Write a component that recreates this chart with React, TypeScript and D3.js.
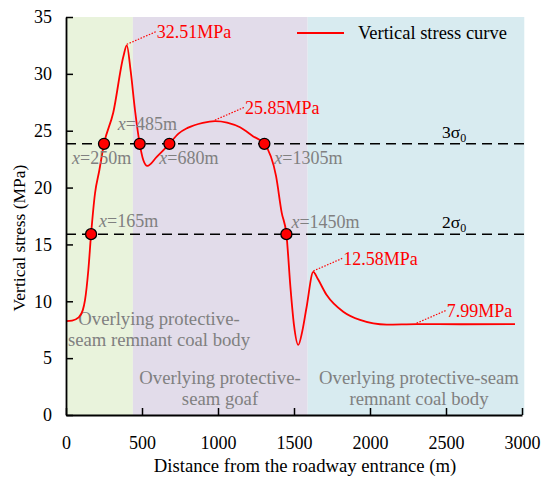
import { useEffect, useRef } from 'react';
import * as d3 from 'd3';

// stress curve
const distance = [
  0, 40, 81, 110, 125, 147, 165, 191, 219, 250, 311, 377, 400, 425, 454, 485, 509, 535,
  597, 680, 740, 800, 900, 980, 1060, 1145, 1232, 1305, 1382, 1419, 1450, 1478, 1500,
  1528, 1555, 1583, 1627, 1655, 1715, 1824, 1934, 2110, 2307, 2600, 2954,
];
const stress = [
  8.25, 8.3, 8.56, 9.2, 10.1, 12.75, 15.9, 19.5, 21.5, 23.85, 26.6, 31.5, 32.51, 30.3,
  26.8, 23.85, 22.4, 21.9, 22.7, 23.85, 24.75, 25.25, 25.7, 25.85, 25.72, 25.3, 24.5,
  23.85, 21.0, 17.8, 15.9, 11.0, 7.9, 6.16, 7.4, 9.5, 12.58, 12.0, 10.55, 9.08, 8.36,
  7.95, 7.99, 7.98, 8.0,
];

const sigma3 = 23.85;
const sigma2 = 15.9;

const crossX = [165, 250, 485, 680, 1305, 1450];
const crossY = [sigma2, sigma3, sigma3, sigma3, sigma3, sigma2];
const crossLabels = ['165', '250', '485', '680', '1305', '1450'];
// label offsets (px) relative to each marker
const crossDx = [8, -32, -22, -10, 10, 5];
const crossDy = [-7, 20, -14, 20, 20, -6];

const peakX = [400, 980, 1627, 2307];
const peakY = [32.51, 25.85, 12.58, 7.99];
const peakLabels = ['32.51MPa', '25.85MPa', '12.58MPa', '7.99MPa'];

const zoneStart = [0, 440, 1590];
const zoneEnd = [440, 1590, 3015];
const zoneColors = ['#e9f3dc', '#e2dcea', '#d8ebf0'];
const zoneLine1 = ['Overlying protective-', 'Overlying protective-', 'Overlying protective-seam'];
const zoneLine2 = ['seam remnant coal body', 'seam goaf', 'remnant coal body'];
const zoneLabelX = [159, 220, 419];

const xTicks = [0, 500, 1000, 1500, 2000, 2500, 3000];
const yTicks = [0, 5, 10, 15, 20, 25, 30, 35];

const W = 550;
const H = 481;
const FONT = "'Liberation Serif', 'Times New Roman', 'DejaVu Serif', serif";

export default function App() {
  const xAxisRef = useRef<SVGGElement>(null);
  const yAxisRef = useRef<SVGGElement>(null);

  const x = d3.scaleLinear().domain([0, 3000]).range([66, 522]);
  const y = d3.scaleLinear().domain([0, 35]).range([415, 17]);

  useEffect(() => {
    if (!xAxisRef.current || !yAxisRef.current) return;
    const gx = d3.select(xAxisRef.current);
    gx.selectAll('*').remove();
    gx.call(
      d3
        .axisBottom(x)
        .tickValues(xTicks)
        .tickFormat(d3.format('d'))
        .tickSizeInner(-7)
        .tickSizeOuter(0)
        .tickPadding(21)
    );
    const gy = d3.select(yAxisRef.current);
    gy.selectAll('*').remove();
    gy.call(
      d3
        .axisLeft(y)
        .tickValues(yTicks)
        .tickFormat(d3.format('d'))
        .tickSizeInner(-7)
        .tickSizeOuter(0)
        .tickPadding(14)
    );
    for (const g of [gx, gy]) {
      g.attr('font-family', null).attr('font-size', 18);
      g.selectAll('path.domain').attr('stroke', '#000').attr('stroke-width', 1.8);
      g.selectAll('.tick line').attr('stroke', '#000').attr('stroke-width', 1.5);
      g.selectAll('.tick text').attr('fill', '#000');
    }
  }, []);

  const line = d3
    .line<number>()
    .x((_, i) => x(distance[i]))
    .y((d) => y(d))
    .curve(d3.curveMonotoneX);

  return (
    <div style={{ position: 'absolute', left: 0, top: 0 }}>
      <style>{`svg text { font-family: ${FONT}; }`}</style>
      <svg width={W} height={H} style={{ display: 'block' }}>
        <rect width={W} height={H} fill="#fff" />
        {zoneStart.map((s, i) => (
          <rect
            key={i}
            x={x(s)}
            y={y(35)}
            width={x(zoneEnd[i]) - x(s)}
            height={y(0) - y(35)}
            fill={zoneColors[i]}
          />
        ))}
        {zoneLine1.map((t, i) => (
          <text key={i} x={zoneLabelX[i]} textAnchor="middle" fill="#808080" fontSize={18.7}>
            <tspan x={zoneLabelX[i]} y={i === 0 ? 325 : 384}>
              {t}
            </tspan>
            <tspan x={zoneLabelX[i]} y={i === 0 ? 346 : 405}>
              {zoneLine2[i]}
            </tspan>
          </text>
        ))}

        {[sigma3, sigma2].map((v, i) => (
          <line
            key={i}
            x1={x(0)}
            x2={x(3015)}
            y1={y(v)}
            y2={y(v)}
            stroke="#000"
            strokeWidth={1.6}
            strokeDasharray="10,6"
          />
        ))}
        {['3', '2'].map((k, i) => (
          <text key={k} x={442} y={y(i === 0 ? sigma3 : sigma2) - 6} fontSize={17.5} fill="#000">
            {k}σ
            <tspan fontSize={12} dy={4}>
              0
            </tspan>
          </text>
        ))}

        <path d={line(stress) ?? ''} fill="none" stroke="#ff0000" strokeWidth={1.8} />

        {peakX.map((px, i) => (
          <g key={i}>
            <line
              x1={x(px)}
              y1={y(peakY[i]) - 1}
              x2={x(px) + 30}
              y2={y(peakY[i]) - 14}
              stroke="#ff0000"
              strokeWidth={1.2}
              strokeDasharray="1.5,1.5"
            />
            <text x={x(px) + 30} y={y(peakY[i]) - 7} fill="#ff0000" fontSize={18}>
              {peakLabels[i]}
            </text>
          </g>
        ))}

        {crossX.map((cx, i) => (
          <text
            key={'l' + i}
            x={x(cx) + crossDx[i]}
            y={y(crossY[i]) + crossDy[i]}
            fill="#808080"
            fontSize={18}
          >
            <tspan fontStyle="italic">x</tspan>={crossLabels[i]}m
          </text>
        ))}
        {crossX.map((cx, i) => (
          <circle
            key={'c' + i}
            cx={x(cx)}
            cy={y(crossY[i])}
            r={5.5}
            fill="#ff0000"
            stroke="#000"
            strokeWidth={1.3}
          />
        ))}

        <g ref={xAxisRef} transform={`translate(0,${y(0)})`} />
        <g ref={yAxisRef} transform={`translate(${x(0)},0)`} />

        <line x1={297} x2={344} y1={33} y2={33} stroke="#ff0000" strokeWidth={1.8} />
        <text x={358} y={39} fontSize={18.5} fill="#000">
          Vertical stress curve
        </text>

        <text x={305} y={472} textAnchor="middle" fontSize={18.7} fill="#000">
          Distance from the roadway entrance (m)
        </text>
        <text
          transform="translate(25,238) rotate(-90)"
          textAnchor="middle"
          fontSize={17.5}
          fill="#000"
        >
          Vertical stress (MPa)
        </text>
      </svg>
    </div>
  );
}
